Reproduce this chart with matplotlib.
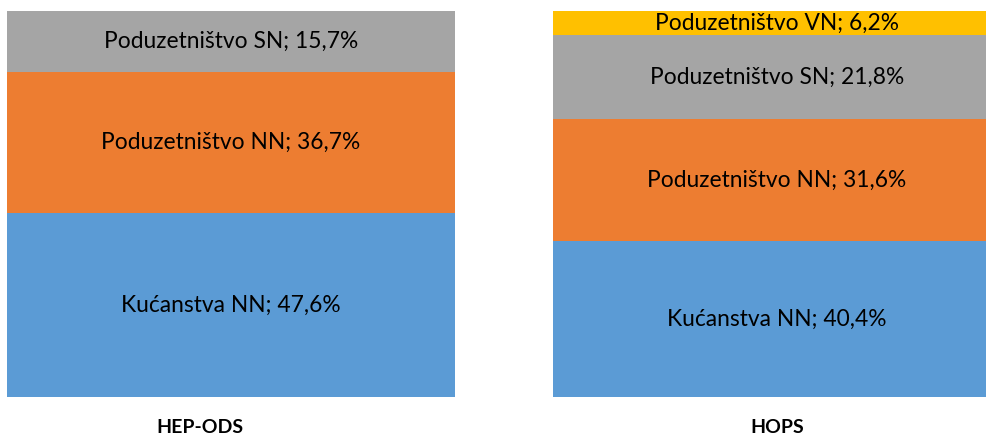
import numpy as np
import matplotlib.pyplot as plt

# Data
groups = ['HEP-ODS', 'HOPS']
segments = ['Kućanstva NN', 'Poduzetništvo NN', 'Poduzetništvo SN', 'Poduzetništvo VN']
hep_ods = [47.6, 36.7, 15.7, 0.0]
hops = [40.4, 31.6, 21.8, 6.2]
colors = ['#5B9BD5', '#ED7D31', '#A5A5A5', '#FFC000']

plt.rcParams['font.family'] = ['Lato', 'DejaVu Sans']

fig = plt.figure(figsize=(9.87, 4.41), dpi=100)
ax = fig.add_axes([0, 44 / 441, 1, 386 / 441])

x = np.arange(len(groups))
width = 0.8205
values = np.array([hep_ods, hops])
bottom = np.zeros(len(groups))
for i, seg in enumerate(segments):
    vals = values[:, i]
    ax.bar(x, vals, width, bottom=bottom, color=colors[i])
    for j in range(len(groups)):
        if vals[j] > 0:
            label = f'{seg}; {vals[j]:.1f}%'.replace('.', ',')
            ax.text(x[j], bottom[j] + vals[j] / 2, label, ha='center', va='center',
                    fontsize=16.4, color='black')
    bottom += vals

ax.set_xlim(-0.423, 1.3846)
ax.set_ylim(0, 100)
# the first category label sits a bit left of its bar in the original
ax.set_xticks([-0.057, 1.0])
ax.set_xticklabels(groups, fontsize=14, fontweight='bold')
ax.tick_params(axis='x', length=0, pad=16)
ax.set_yticks([])
for s in ax.spines.values():
    s.set_visible(False)

fig.savefig('out.png', dpi=100)
